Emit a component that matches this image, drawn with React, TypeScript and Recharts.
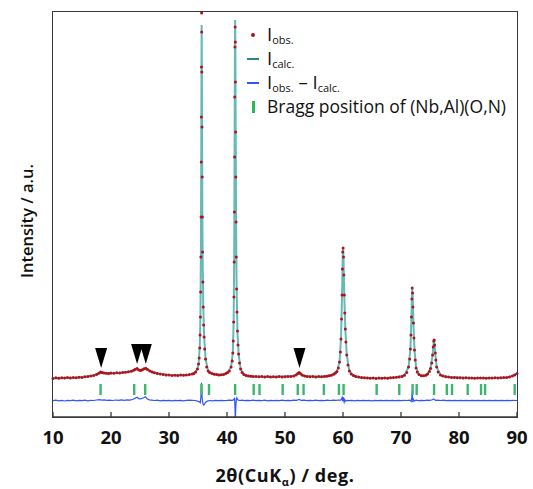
import { ComposedChart, Line, Scatter, XAxis, YAxis } from 'recharts'

// 2theta (deg) vs intensity (a.u.)
const obsPoints: [number, number][] = [
  [10, 38.6], [10.5, 39.2], [11, 38.8], [11.5, 39.3], [12, 38.9], [12.5, 39.5], [13, 39.1], [13.5, 39.6],
  [14, 39.3], [14.5, 39.8], [15, 39.6], [15.5, 40.2], [16, 40.4], [16.5, 41.1], [17, 41.6], [17.5, 42.6],
  [17.9, 43.8], [18.2, 45], [18.5, 44.6], [18.8, 44], [19.2, 43.8], [19.6, 43.5], [20, 43.9], [20.5, 43.7],
  [21, 44.3], [21.5, 44.1], [22, 44.6], [22.5, 44.8], [23, 45.3], [23.5, 45.8], [23.9, 46.8], [24.2, 47.8],
  [24.5, 48.4], [24.8, 46.9], [25.1, 46.5], [25.4, 47.2], [25.7, 48.3], [26, 48.8], [26.3, 47.4], [26.7, 45.9],
  [27.1, 45], [27.5, 44.2], [28, 43.6], [28.5, 43], [29, 42.6], [29.5, 42.1], [30, 41.9], [30.5, 41.6],
  [31, 41.8], [31.5, 41.5], [32, 41.9], [32.5, 41.7], [33, 42.1], [33.5, 42.4], [34, 43], [34.3, 43.6],
  [34.6, 45], [34.9, 48], [35.1, 53], [35.2, 59], [35.3, 69], [35.36, 82], [35.42, 100], [35.46, 125],
  [35.5, 160], [35.53, 200], [35.56, 255], [35.58, 300], [35.6, 350], [35.62, 404], [35.64, 385], [35.66, 345],
  [35.69, 290], [35.72, 240], [35.75, 200], [35.79, 165], [35.84, 135], [35.9, 110], [35.97, 92], [36.05, 80],
  [36.15, 68], [36.3, 58], [36.5, 50], [36.75, 46], [37, 44.5], [37.4, 43.4], [37.8, 42.8], [38.2, 42.4],
  [38.6, 42.1], [39, 42.3], [39.4, 42.6], [39.8, 43.4], [40.1, 44.5], [40.4, 46], [40.7, 50], [40.9, 56],
  [41, 64], [41.08, 76], [41.15, 95], [41.2, 120], [41.24, 155], [41.28, 205], [41.31, 260], [41.34, 320],
  [41.37, 370], [41.4, 390], [41.43, 375], [41.46, 335], [41.49, 285], [41.52, 240], [41.56, 195], [41.6, 160],
  [41.66, 128], [41.72, 105], [41.8, 86], [41.9, 72], [42, 63], [42.15, 54], [42.35, 48], [42.6, 44.5],
  [42.9, 42.6], [43.3, 41.6], [43.7, 41], [44.1, 40.7], [44.5, 40.4], [45, 40.6], [45.5, 40.2], [46, 40.5],
  [46.5, 40.1], [47, 40.4], [47.5, 40], [48, 40.3], [48.5, 40.1], [49, 40.4], [49.5, 40], [50, 40.3],
  [50.5, 40.4], [51, 40.6], [51.5, 41], [51.9, 42], [52.2, 43.6], [52.45, 44.4], [52.7, 43.2], [53, 41.8],
  [53.4, 40.9], [53.8, 40.5], [54.3, 40.2], [54.8, 40.4], [55.3, 40.1], [55.8, 40.4], [56.3, 40.3], [56.8, 40.6],
  [57.2, 40.8], [57.6, 41.2], [58, 41.8], [58.4, 42.8], [58.7, 44], [58.95, 45.5], [59.2, 49], [59.4, 55],
  [59.55, 65], [59.65, 78], [59.75, 98], [59.83, 122], [59.9, 148], [59.96, 165], [60.02, 169], [60.08, 160],
  [60.15, 142], [60.22, 122], [60.3, 104], [60.4, 88], [60.5, 75], [60.65, 62], [60.85, 52], [61.1, 46],
  [61.4, 43], [61.8, 41.5], [62.2, 40.6], [62.7, 40], [63.2, 39.6], [63.7, 39.3], [64.2, 39.1], [64.7, 38.8],
  [65.2, 38.9], [65.7, 38.6], [66.2, 38.9], [66.7, 38.7], [67.2, 39], [67.7, 38.8], [68.2, 39.2], [68.7, 39.4],
  [69.2, 39.7], [69.7, 40.1], [70.2, 40.6], [70.6, 41.8], [71, 44.5], [71.3, 50], [71.5, 58], [71.62, 68],
  [71.72, 82], [71.8, 100], [71.87, 118], [71.93, 129], [71.99, 124], [72.06, 110], [72.14, 94], [72.23, 79],
  [72.33, 67], [72.45, 57], [72.6, 49], [72.8, 45], [73.1, 42.4], [73.5, 41.3], [73.9, 41.2], [74.3, 41.8],
  [74.6, 43], [74.9, 45.5], [75.1, 48.5], [75.3, 54], [75.45, 62], [75.55, 70], [75.65, 76], [75.72, 77],
  [75.8, 72], [75.9, 64], [76, 57], [76.15, 50], [76.4, 45], [76.8, 42], [77.2, 41], [77.7, 40.3],
  [78.2, 40], [78.7, 39.6], [79.2, 39.5], [79.7, 39.2], [80.2, 39.3], [80.7, 39], [81.2, 39.2], [81.7, 38.9],
  [82.2, 39.1], [82.7, 38.8], [83.2, 39], [83.7, 38.9], [84.2, 39.1], [84.7, 38.8], [85.2, 39], [85.7, 38.9],
  [86.2, 39.2], [86.7, 39], [87.2, 39.3], [87.7, 39.4], [88.2, 39.6], [88.7, 40.1], [89.2, 40.9], [89.6, 42],
  [90, 43.5],
]

const calcPoints: [number, number][] = [
  [10, 38.8], [12, 39.1], [14, 39.5], [16, 40.4], [17, 41.6], [17.8, 43.5], [18.2, 44.6], [18.6, 44.3],
  [19.5, 43.6], [21, 44], [23, 45], [24, 46.8], [24.4, 48], [24.8, 47], [25.4, 47.2], [25.9, 48.4],
  [26.4, 47], [27.2, 44.8], [28.5, 43], [30, 41.9], [32, 41.7], [33.5, 42.3], [34.3, 43.6], [34.9, 48],
  [35.1, 53], [35.3, 70], [35.42, 102], [35.5, 165], [35.56, 262], [35.6, 348], [35.63, 392], [35.66, 355],
  [35.7, 285], [35.75, 205], [35.8, 160], [35.9, 112], [36.05, 82], [36.3, 58], [36.75, 46], [37.4, 43.4],
  [38.5, 42.2], [39.5, 42.6], [40.1, 44.5], [40.7, 50], [41, 64], [41.15, 96], [41.24, 160], [41.31, 270],
  [41.36, 360], [41.4, 397], [41.44, 372], [41.5, 282], [41.56, 198], [41.66, 128], [41.8, 86], [42, 63],
  [42.35, 48], [42.9, 42.6], [44, 40.7], [48, 40.2], [51.5, 41], [52.45, 44.2], [53.4, 40.9], [56, 40.3],
  [58, 41.8], [58.95, 45.5], [59.4, 55], [59.65, 78], [59.83, 120], [59.96, 163], [60.02, 168], [60.08, 160],
  [60.22, 122], [60.4, 88], [60.65, 62], [61.1, 46], [61.8, 41.5], [63, 39.6], [66, 38.8], [69, 39.5],
  [70.6, 41.8], [71.3, 50], [71.62, 68], [71.8, 100], [71.93, 128], [72, 123], [72.14, 94], [72.33, 67],
  [72.6, 49], [73.1, 42.4], [73.9, 41.2], [74.6, 43], [75.1, 48.5], [75.45, 62], [75.65, 75.5], [75.72, 76.5],
  [75.9, 64], [76.15, 50], [76.8, 42], [78.2, 40], [82, 39], [86, 39], [88.2, 39.6], [89.2, 40.9],
  [90, 43.3],
]

// Iobs - Icalc
const diffPoints: [number, number][] = [
  [10, 0], [10.5, 0.5], [11, -0.2], [11.5, 0.4], [12, -0.3], [12.5, 0.3], [13, 0], [13.5, 0.5],
  [14, -0.2], [14.5, 0.4], [15, 0.1], [15.5, 0.6], [16, -0.1], [16.5, 0.4], [17, 0.2], [17.5, 0.7],
  [18, 1], [18.4, 0.5], [18.8, 0.8], [19.3, 0.3], [19.8, 0.6], [20.3, 0.2], [20.8, 0.7], [21.3, 0.4],
  [21.8, 0.8], [22.3, 0.3], [22.8, 0.9], [23.3, 0.6], [23.8, 1.4], [24.2, 2.6], [24.5, 3.5], [24.8, 2],
  [25.1, 1.8], [25.4, 2.4], [25.7, 3.2], [25.95, 4], [26.2, 2], [26.6, 0.8], [27, 0.6], [27.5, 0.2],
  [28, 0.5], [28.5, -0.1], [29, 0.4], [29.5, 0], [30, 0.3], [30.5, -0.2], [31, 0.3], [31.5, 0],
  [32, 0.4], [32.5, -0.1], [33, 0.3], [33.5, 0.6], [34, 0.4], [34.5, 0.2], [34.9, -0.4], [35.2, -1],
  [35.4, -2], [35.5, 4], [35.56, 11], [35.6, 18], [35.64, 12], [35.7, 4], [35.78, -1], [35.88, -3.5],
  [36, -4.5], [36.15, -3], [36.35, -1.2], [36.6, -0.4], [37, 0.2], [37.5, -0.2], [38, 0.3], [38.5, 0],
  [39, 0.4], [39.5, 0.1], [40, 0.3], [40.5, 0.6], [40.9, 0.4], [41.1, 0.8], [41.22, 2], [41.3, 3],
  [41.36, -4], [41.4, -12], [41.43, -20], [41.47, -14], [41.52, -6], [41.6, 0.5], [41.7, 2.8], [41.8, 1.5],
  [41.95, 0.6], [42.2, 0.2], [42.6, 0.5], [43, 0], [43.5, 0.4], [44, 0.1], [44.5, 0.5], [45, 0],
  [45.5, 0.4], [46, 0.1], [46.5, 0.5], [47, -0.1], [47.5, 0.3], [48, 0], [48.5, 0.4], [49, 0.1],
  [49.5, 0.5], [50, 0], [50.5, 0.4], [51, 0.1], [51.5, 0.5], [52, 0.4], [52.4, 1.2], [52.8, 0.3],
  [53.3, 0.5], [53.8, 0], [54.3, 0.4], [54.8, 0.1], [55.3, 0.5], [55.8, 0], [56.3, 0.4], [56.8, 0.1],
  [57.3, 0.5], [57.8, 0.2], [58.3, 0.6], [58.8, 0.3], [59.3, 0.7], [59.6, 0.5], [59.75, 1.8], [59.85, 3.2],
  [59.93, -0.5], [60, 1], [60.06, 3.5], [60.12, 0], [60.2, -1.5], [60.3, 1.2], [60.45, -0.5], [60.7, 0.4],
  [61, 0], [61.5, 0.3], [62, -0.1], [62.5, 0.3], [63, 0], [63.5, 0.4], [64, 0], [64.5, 0.3],
  [65, -0.1], [65.5, 0.3], [66, 0], [66.5, 0.4], [67, 0.1], [67.5, 0.4], [68, 0], [68.5, 0.3],
  [69, 0.1], [69.5, 0.4], [70, 0], [70.5, 0.4], [71, 0.2], [71.5, 0.6], [71.75, -0.8], [71.88, 4],
  [71.93, 10], [71.98, 3], [72.05, -1.5], [72.15, 1.2], [72.3, -0.3], [72.6, 0.5], [73, 0], [73.5, 0.4],
  [74, 0.1], [74.5, 0.5], [75, 0.4], [75.4, 0.9], [75.6, 1.8], [75.75, 1.2], [75.95, 0.4], [76.3, 0.6],
  [76.8, 0.2], [77.3, 0.5], [77.8, 0], [78.3, 0.4], [78.8, 0.1], [79.3, 0.4], [79.8, 0], [80.3, 0.3],
  [80.8, 0], [81.3, 0.4], [81.8, 0.1], [82.3, 0.4], [82.8, 0], [83.3, 0.3], [83.8, 0], [84.3, 0.4],
  [84.8, 0.1], [85.3, 0.3], [85.8, 0], [86.3, 0.4], [86.8, 0.1], [87.3, 0.3], [87.8, 0], [88.3, 0.4],
  [88.8, 0.1], [89.3, 0.3], [90, 0.2],
]

const braggPositions = [
  18.2, 24.0, 25.9, 35.6, 36.9, 41.4, 44.6, 45.6, 49.6, 52.2, 53.2, 56.7, 59.3,
  60.1, 65.8, 69.7, 72.0, 72.7, 75.7, 77.9, 78.8, 81.5, 83.8, 84.5, 89.6,
]

// unindexed peaks marked with black triangles: [2theta, tip height]
const impurityMarks: [number, number][] = [
  [18.3, 49], [24.5, 53], [26.0, 53], [52.5, 49],
]

const xTicks = [10, 20, 30, 40, 50, 60, 70, 80, 90]

const diffOffset = 16.3
const braggLevel = 27.5

const obsData = obsPoints.map(([x, y]) => ({ x, y }))
const calcData = calcPoints.map(([x, y]) => ({ x, y }))
const diffData = diffPoints.map(([x, d]) => ({ x, y: d + diffOffset }))
const braggData = braggPositions.map((x) => ({ x, y: braggLevel }))
const markData = impurityMarks.map(([x, y]) => ({ x, y }))

const axisColor = '#3a3a3a'
const font = "'Open Sans', sans-serif"

const XTick = (props: any) => {
  const { x, y, payload } = props
  return (
    <g>
      <line x1={x} x2={x} y1={y} y2={y - 5} stroke={axisColor} strokeWidth={1.3} />
      <text x={x} y={y + 27} textAnchor="middle" fontSize={18.5} fontWeight={700} fontFamily={font} fill="#111">
        {payload.value}
      </text>
    </g>
  )
}

// axis titles (both drawn from the x axis label slot)
const AxisTitles = (props: any) => {
  const vb = props.viewBox
  return (
    <g>
      <text
        x={vb.x + vb.width / 2}
        y={482}
        textAnchor="middle"
        fontSize={18}
        fontWeight={700}
        letterSpacing={0.6}
        fontFamily={font}
        fill="#111"
      >
        2θ(CuK<tspan fontSize={11} dy={4}>α</tspan>
        <tspan dy={-4}>) / deg.</tspan>
      </text>
      <text
        x={33}
        y={221}
        transform="rotate(-90 33 221)"
        textAnchor="middle"
        fontSize={16.5}
        fontWeight={600}
        fontFamily={font}
        fill="#111"
      >
        Intensity / a.u.
      </text>
    </g>
  )
}

const ObsDot = (props: any) => <circle cx={props.cx} cy={props.cy} r={1.5} fill="#b0121a" />

const BraggMark = (props: any) => (
  <rect x={props.cx - 1.2} y={props.cy - 5.5} width={2.4} height={11} fill="#3cb66e" />
)

const Triangle = (props: any) => {
  const { cx, cy } = props
  return <polygon points={`${cx},${cy} ${cx - 6},${cy - 20} ${cx + 6},${cy - 20}`} fill="#000" />
}

const legendRow: React.CSSProperties = {
  display: 'flex',
  alignItems: 'center',
  height: 24,
}

const symbolBox: React.CSSProperties = {
  width: 22,
  display: 'flex',
  justifyContent: 'center',
  alignItems: 'center',
  marginRight: 3,
}

const big: React.CSSProperties = { fontSize: 18.5 }
const sub: React.CSSProperties = { fontSize: 11, verticalAlign: -3 }

export default function App() {
  return (
    <div
      style={{
        position: 'absolute',
        left: 0,
        top: 0,
        width: 533,
        height: 489,
        background: '#fff',
        fontFamily: font,
      }}
    >
      <ComposedChart width={533} height={489} margin={{ top: 12, right: 16, left: 53, bottom: 0 }}>
        <XAxis
          dataKey="x"
          type="number"
          domain={[10, 90]}
          ticks={xTicks}
          height={72}
          tickSize={0}
          tickMargin={0}
          tickLine={false}
          axisLine={{ stroke: axisColor, strokeWidth: 1.5 }}
          tick={<XTick />}
          label={<AxisTitles />}
        />
        <YAxis dataKey="y" type="number" domain={[0, 405]} allowDataOverflow hide />
        <Line
          data={diffData}
          dataKey="y"
          stroke="#2f55ff"
          strokeWidth={1.2}
          dot={false}
          isAnimationActive={false}
        />
        <Scatter data={braggData} dataKey="y" shape={<BraggMark />} isAnimationActive={false} />
        <Line
          data={calcData}
          dataKey="y"
          stroke="#66b9b7"
          strokeWidth={2}
          dot={false}
          isAnimationActive={false}
        />
        <Scatter data={obsData} dataKey="y" shape={<ObsDot />} isAnimationActive={false} />
        <Scatter data={markData} dataKey="y" shape={<Triangle />} isAnimationActive={false} />
      </ComposedChart>

      {/* plot frame */}
      <div
        style={{
          position: 'absolute',
          left: 52,
          top: 11,
          width: 464,
          height: 405,
          border: `1.5px solid ${axisColor}`,
          pointerEvents: 'none',
        }}
      />

      <div
        style={{
          position: 'absolute',
          left: 242,
          top: 23,
          fontSize: 17.5,
          color: '#111',
          lineHeight: 1,
        }}
      >
        <div style={legendRow}>
          <span style={symbolBox}>
            <span style={{ width: 3.5, height: 3.5, borderRadius: 2, background: '#b0121a' }} />
          </span>
          <span>
            <span style={big}>I</span>
            <span style={sub}>obs.</span>
          </span>
        </div>
        <div style={legendRow}>
          <span style={symbolBox}>
            <span style={{ width: 12, height: 2, background: '#2e8682' }} />
          </span>
          <span>
            <span style={big}>I</span>
            <span style={sub}>calc.</span>
          </span>
        </div>
        <div style={legendRow}>
          <span style={symbolBox}>
            <span style={{ width: 12, height: 2, background: '#2f55ff' }} />
          </span>
          <span>
            <span style={big}>I</span>
            <span style={sub}>obs.</span>
            <span style={big}> – I</span>
            <span style={sub}>calc.</span>
          </span>
        </div>
        <div style={legendRow}>
          <span style={symbolBox}>
            <span style={{ width: 3, height: 12, background: '#2fb55a' }} />
          </span>
          <span>Bragg position of (Nb,Al)(O,N)</span>
        </div>
      </div>
    </div>
  )
}
